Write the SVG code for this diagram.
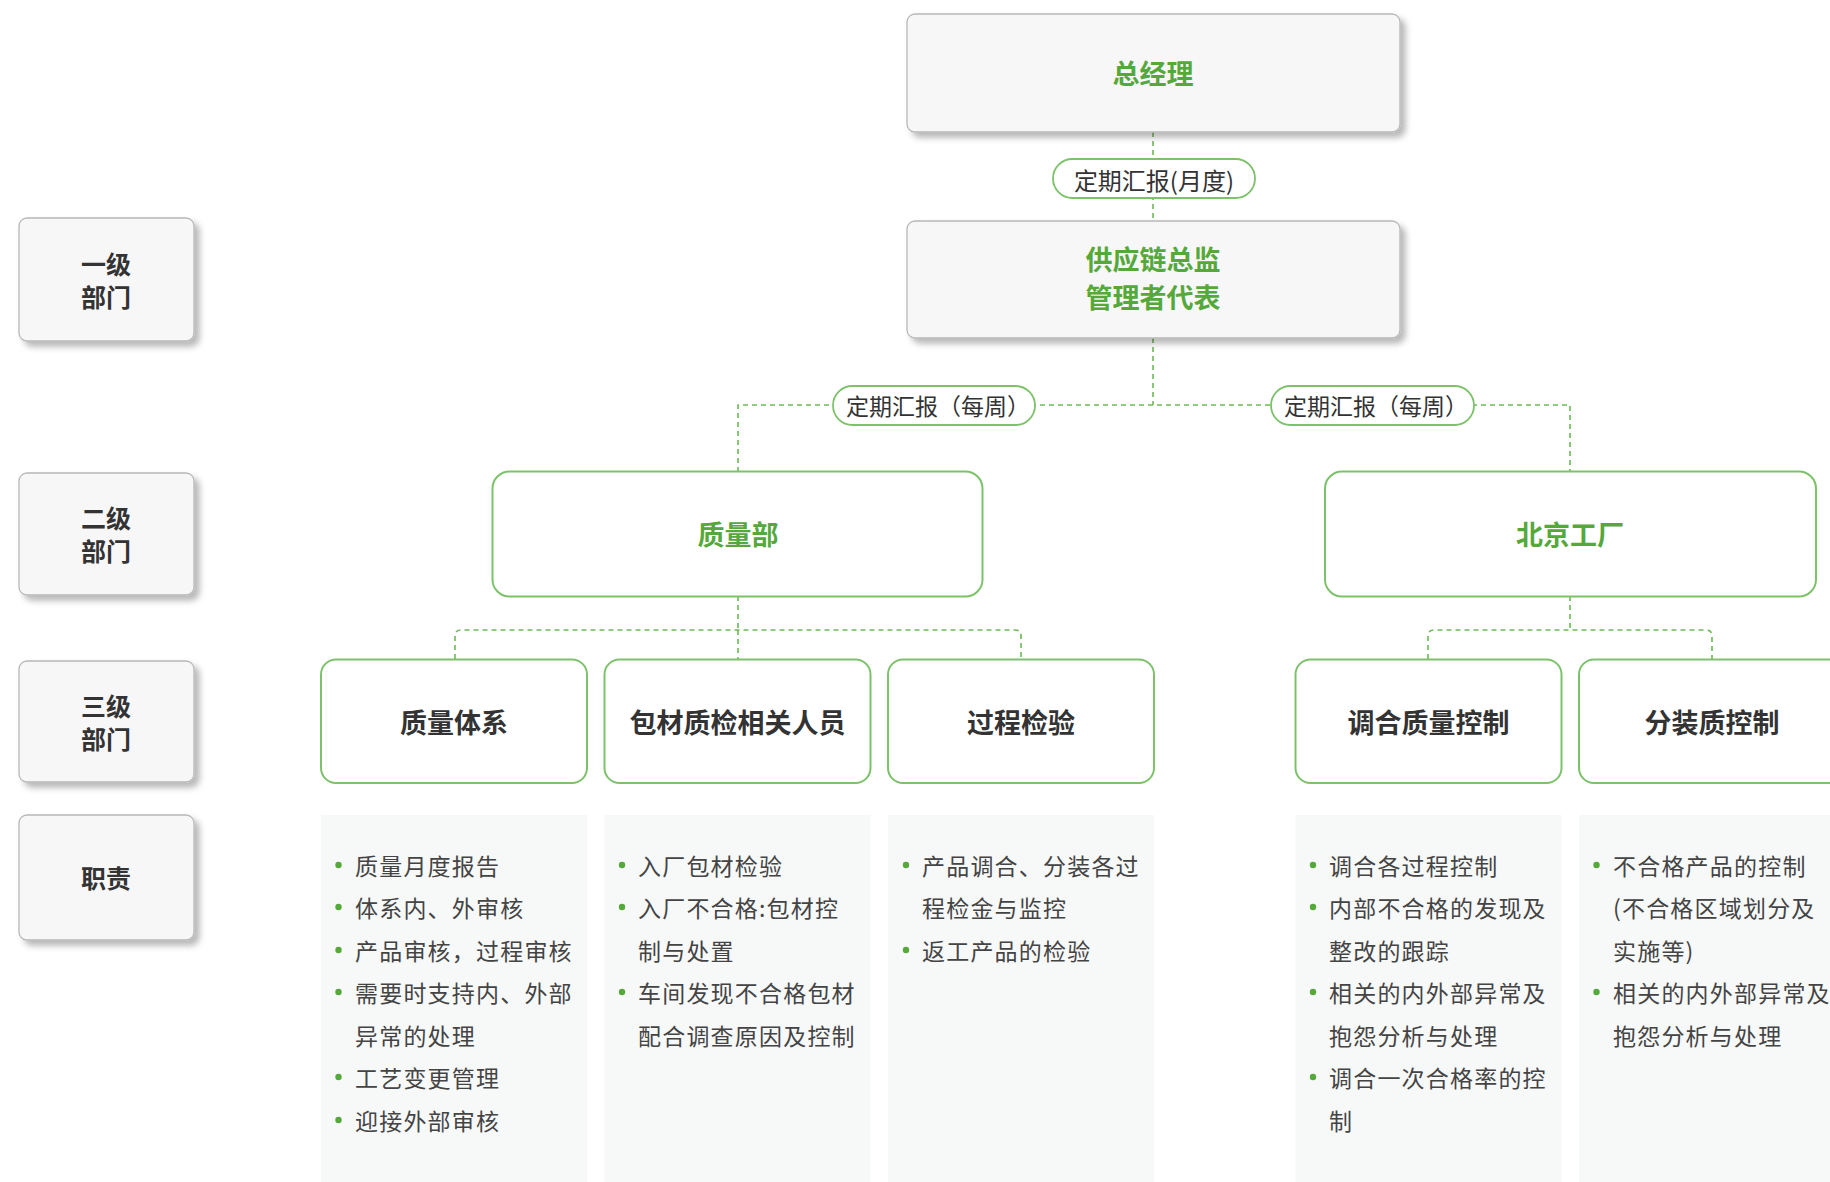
<svg xmlns="http://www.w3.org/2000/svg" width="1830" height="1182" viewBox="0 0 1830 1182">
<defs>
<filter id="sh" x="-10%" y="-10%" width="130%" height="140%">
<feDropShadow dx="5" dy="5" stdDeviation="3" flood-color="#000" flood-opacity="0.28"/>
</filter>
<style>
text{font-family:"Noto Sans CJK SC","Noto Sans",sans-serif;}
.gbox{fill:#f7f7f7;stroke:#b8b8b8;stroke-width:1.3;filter:url(#sh);}
.grn{fill:#fff;stroke:#7cc26a;stroke-width:2;}
.pill{fill:#fff;stroke:#7cc26a;stroke-width:1.8;}
.panel{fill:#f7f8f8;}
.side{font-size:25px;font-weight:700;fill:#333;text-anchor:middle;}
.lbl{font-size:27px;font-weight:700;fill:#333;text-anchor:middle;dominant-baseline:central;}
.gt{font-size:27px;font-weight:700;fill:#55a83a;text-anchor:middle;}
.pt{font-size:24px;fill:#333;text-anchor:middle;dominant-baseline:central;}
.pw{font-size:23px;fill:#333;text-anchor:middle;dominant-baseline:central;}
.dt{font-size:23px;fill:#444;letter-spacing:1.2px;dominant-baseline:central;}
.dot{fill:#55a83a;}
.con{fill:none;stroke:#6cba55;stroke-width:1.6;stroke-dasharray:5 4;}
</style>
</defs>
<rect width="1830" height="1182" fill="#fff"/>

<g id="connectors">
<path class="con" d="M1153 132 V221"/>
<path class="con" d="M1153 338 V405"/>
<path class="con" d="M738 472 V405 H1570 V472"/>
<path class="con" d="M738 596 V630"/>
<path class="con" d="M455 659 V636 Q455 630 461 630 H1015 Q1021 630 1021 636 V659"/>
<path class="con" d="M738 630 V659"/>
<path class="con" d="M1570 596 V630"/>
<path class="con" d="M1428 659 V636 Q1428 630 1434 630 H1706 Q1712 630 1712 636 V659"/>
</g>

<g id="lvl1"><rect class="gbox" x="19" y="218" width="175" height="123" rx="8"/><text class="side" x="106" y="274">一级<tspan x="106" dy="33">部门</tspan></text></g>
<g id="lvl2"><rect class="gbox" x="19" y="473" width="175" height="122" rx="8"/><text class="side" x="106" y="528">二级<tspan x="106" dy="33">部门</tspan></text></g>
<g id="lvl3"><rect class="gbox" x="19" y="661" width="175" height="121" rx="8"/><text class="side" x="106" y="716">三级<tspan x="106" dy="33">部门</tspan></text></g>
<g id="duty"><rect class="gbox" x="19" y="815" width="175" height="125" rx="8"/><text class="side" x="106" y="888">职责</text></g>

<g id="gm"><rect class="gbox" x="907" y="14" width="493" height="118" rx="8"/><text class="gt" x="1153" y="84">总经理</text></g>
<g id="pill-month"><rect class="pill" x="1053" y="159" width="202" height="39" rx="19.5"/><text class="pt" x="1154" y="179">定期汇报(月度)</text></g>
<g id="scm"><rect class="gbox" x="907" y="221" width="493" height="117" rx="8"/><text class="gt" x="1153" y="270">供应链总监<tspan x="1153" dy="38">管理者代表</tspan></text></g>
<g id="pill-week1"><rect class="pill" x="833" y="386" width="202" height="39" rx="19.5"/><text class="pw" x="938" y="405">定期汇报（每周）</text></g>
<g id="pill-week2"><rect class="pill" x="1271" y="386" width="203" height="39" rx="19.5"/><text class="pw" x="1376" y="405">定期汇报（每周）</text></g>

<g id="qa"><rect class="grn" x="492.5" y="471.5" width="490" height="125" rx="17"/><text class="gt" x="738" y="545">质量部</text></g>
<g id="bj"><rect class="grn" x="1325" y="471.5" width="491" height="125" rx="17"/><text class="gt" x="1570" y="545">北京工厂</text></g>

<g id="n1"><rect class="grn" x="321" y="659.5" width="266" height="123.5" rx="15"/><text class="lbl" x="454" y="721">质量体系</text></g>
<g id="n2"><rect class="grn" x="604.5" y="659.5" width="266" height="123.5" rx="15"/><text class="lbl" x="737.5" y="721">包材质检相关人员</text></g>
<g id="n3"><rect class="grn" x="888" y="659.5" width="266" height="123.5" rx="15"/><text class="lbl" x="1021" y="721">过程检验</text></g>
<g id="n4"><rect class="grn" x="1295.5" y="659.5" width="266" height="123.5" rx="15"/><text class="lbl" x="1428.5" y="721">调合质量控制</text></g>
<g id="n5"><rect class="grn" x="1579" y="659.5" width="266" height="123.5" rx="15"/><text class="lbl" x="1712" y="721">分装质控制</text></g>

<g id="d1">
<rect class="panel" x="321" y="815" width="266" height="367"/>
<circle class="dot" cx="338.5" cy="865" r="3.2"/><text class="dt" x="355" y="865">质量月度报告</text>
<circle class="dot" cx="338.5" cy="907" r="3.2"/><text class="dt" x="355" y="907">体系内、外审核</text>
<circle class="dot" cx="338.5" cy="950" r="3.2"/><text class="dt" x="355" y="950">产品审核，过程审核</text>
<circle class="dot" cx="338.5" cy="992" r="3.2"/><text class="dt" x="355" y="992">需要时支持内、外部</text>
<text class="dt" x="355" y="1035">异常的处理</text>
<circle class="dot" cx="338.5" cy="1077" r="3.2"/><text class="dt" x="355" y="1077">工艺变更管理</text>
<circle class="dot" cx="338.5" cy="1120" r="3.2"/><text class="dt" x="355" y="1120">迎接外部审核</text>
</g>
<g id="d2">
<rect class="panel" x="604.5" y="815" width="266" height="367"/>
<circle class="dot" cx="622" cy="865" r="3.2"/><text class="dt" x="638" y="865">入厂包材检验</text>
<circle class="dot" cx="622" cy="907" r="3.2"/><text class="dt" x="638" y="907">入厂不合格:包材控</text>
<text class="dt" x="638" y="950">制与处置</text>
<circle class="dot" cx="622" cy="992" r="3.2"/><text class="dt" x="638" y="992">车间发现不合格包材</text>
<text class="dt" x="638" y="1035">配合调查原因及控制</text>
</g>
<g id="d3">
<rect class="panel" x="888" y="815" width="266" height="367"/>
<circle class="dot" cx="906" cy="865" r="3.2"/><text class="dt" x="922" y="865">产品调合、分装各过</text>
<text class="dt" x="922" y="907">程检金与监控</text>
<circle class="dot" cx="906" cy="950" r="3.2"/><text class="dt" x="922" y="950">返工产品的检验</text>
</g>
<g id="d4">
<rect class="panel" x="1295.5" y="815" width="266" height="367"/>
<circle class="dot" cx="1313" cy="865" r="3.2"/><text class="dt" x="1329" y="865">调合各过程控制</text>
<circle class="dot" cx="1313" cy="907" r="3.2"/><text class="dt" x="1329" y="907">内部不合格的发现及</text>
<text class="dt" x="1329" y="950">整改的跟踪</text>
<circle class="dot" cx="1313" cy="992" r="3.2"/><text class="dt" x="1329" y="992">相关的内外部异常及</text>
<text class="dt" x="1329" y="1035">抱怨分析与处理</text>
<circle class="dot" cx="1313" cy="1077" r="3.2"/><text class="dt" x="1329" y="1077">调合一次合格率的控</text>
<text class="dt" x="1329" y="1120">制</text>
</g>
<g id="d5">
<rect class="panel" x="1579" y="815" width="266" height="367"/>
<circle class="dot" cx="1596.5" cy="865" r="3.2"/><text class="dt" x="1613" y="865">不合格产品的控制</text>
<text class="dt" x="1613" y="907">(不合格区域划分及</text>
<text class="dt" x="1613" y="950">实施等)</text>
<circle class="dot" cx="1596.5" cy="992" r="3.2"/><text class="dt" x="1613" y="992">相关的内外部异常及</text>
<text class="dt" x="1613" y="1035">抱怨分析与处理</text>
</g>
</svg>
